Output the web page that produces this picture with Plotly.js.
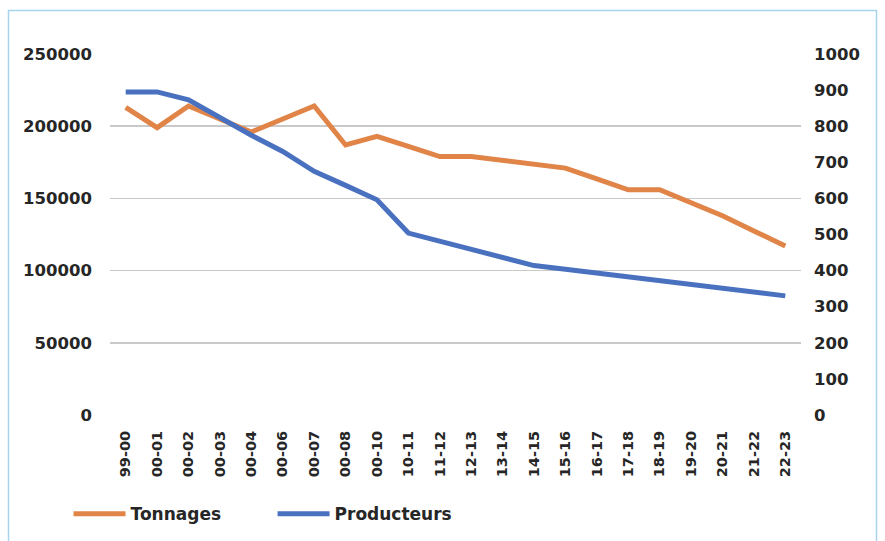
<!DOCTYPE html>
<html>
<head>
<meta charset="utf-8">
<script src="https://cdn.plot.ly/plotly-3.0.1.min.js"></script>
<style>
  html, body { margin: 0; padding: 0; background: #ffffff; }
  #chart { width: 885px; height: 541px; }
</style>
</head>
<body>
<div id="chart"></div>
<script>
const categories = ["99-00","00-01","00-02","00-03","00-04","00-06","00-07","00-08","00-10","10-11","11-12","12-13","13-14","14-15","15-16","16-17","17-18","18-19","19-20","20-21","21-22","22-23"];
const tonnages = [213000,199000,214000,205000,196000,205000,214000,187000,193000,186000,179000,179000,176300,173700,171000,163500,156000,156000,147000,138000,127500,117000];
const producteurs = [895,895,873,823,775,730,675,636,596,504,481,459,436,414,404,393,383,372,362,351,341,330];
const leftTicks = [0,50000,100000,150000,200000,250000];
const rightTicks = [0,100,200,300,400,500,600,700,800,900,1000];

const tickFont = {family: "DejaVu Sans", size: 16.5, color: "#262626", weight: "bold"};

const traces = [
  {x: categories, y: tonnages, name: "Tonnages", type: "scatter", mode: "lines",
   line: {color: "#E08448", width: 5}, yaxis: "y"},
  {x: categories, y: producteurs, name: "Producteurs", type: "scatter", mode: "lines",
   line: {color: "#4A71BF", width: 5}, yaxis: "y2"}
];

const layout = {
  width: 885, height: 541,
  margin: {l: 110, r: 84, t: 54, b: 126, autoexpand: false},
  paper_bgcolor: "#ffffff", plot_bgcolor: "#ffffff",
  showlegend: true,
  xaxis: {type: "category", range: [-0.5, categories.length - 0.5], tickangle: -90,
          showgrid: false, zeroline: false, showline: false, ticks: "", ticklabelstandoff: 12,
          tickfont: {family: "DejaVu Sans", size: 14.5, color: "#262626", weight: "bold"}},
  yaxis: {range: [0, 250000], tickvals: leftTicks, ticktext: leftTicks.map(String),
          showgrid: true, gridcolor: "#C9C9C9", gridwidth: 1.5, zeroline: false,
          ticks: "", ticklabelstandoff: 17, tickfont: tickFont},
  yaxis2: {range: [0, 1000], tickvals: rightTicks, ticktext: rightTicks.map(String),
           overlaying: "y", side: "right", showgrid: false, zeroline: false,
           ticks: "", ticklabelstandoff: 12, tickfont: tickFont},
  legend: {orientation: "h", x: -0.06, xanchor: "left", y: -0.275, yanchor: "middle",
           font: {family: "DejaVu Sans", size: 17, color: "#262626", weight: "bold"},
           itemwidth: 52, entrywidth: 137, entrywidthmode: "pixels", bgcolor: "rgba(0,0,0,0)"},
  shapes: [
    {type: "rect", xref: "paper", yref: "paper",
     x0: (8.5 - 110) / 691, x1: (876.5 - 110) / 691,
     y0: -(560 - 415) / 361, y1: (415 - 10.5) / 361,
     line: {color: "#A8D3EE", width: 1.5}, fillcolor: "rgba(0,0,0,0)", layer: "below"}
  ]
};

Plotly.newPlot("chart", traces, layout, {staticPlot: true, displayModeBar: false});
</script>
</body>
</html>
